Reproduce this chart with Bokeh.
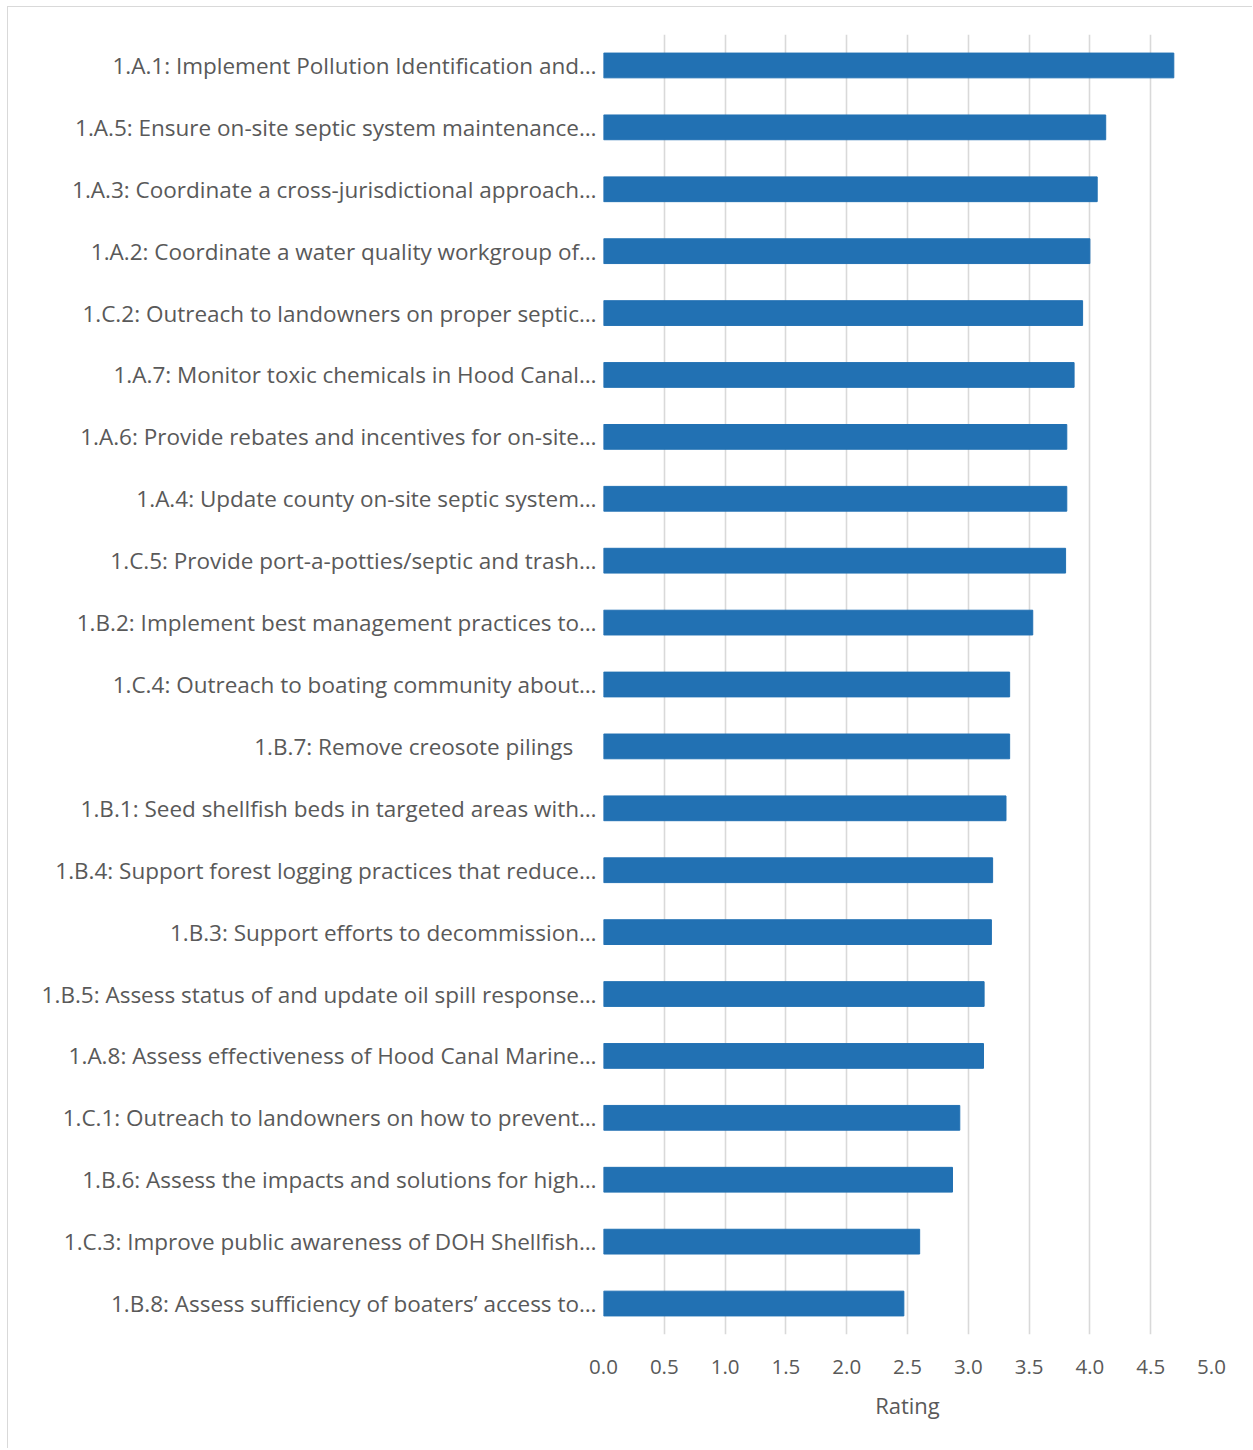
from bokeh.plotting import figure
from bokeh.models import Range1d, FixedTicker
from bokeh.embed import file_html
from bokeh.resources import INLINE

# ---- data (top to bottom as displayed) ----
labels = [
    "1.A.1: Implement Pollution Identification and\u2026",
    "1.A.5: Ensure on-site septic system maintenance\u2026",
    "1.A.3: Coordinate a cross-jurisdictional approach\u2026",
    "1.A.2: Coordinate a water quality workgroup of\u2026",
    "1.C.2: Outreach to landowners on proper septic\u2026",
    "1.A.7: Monitor toxic chemicals in Hood Canal\u2026",
    "1.A.6: Provide rebates and incentives for on-site\u2026",
    "1.A.4: Update county on-site septic system\u2026",
    "1.C.5: Provide port-a-potties/septic and trash\u2026",
    "1.B.2: Implement best management practices to\u2026",
    "1.C.4: Outreach to boating community about\u2026",
    "1.B.7: Remove creosote pilings\u00a0\u00a0\u00a0\u00a0",
    "1.B.1: Seed shellfish beds in targeted areas with\u2026",
    "1.B.4: Support forest logging practices that reduce\u2026",
    "1.B.3: Support efforts to decommission\u2026",
    "1.B.5: Assess status of and update oil spill response\u2026",
    "1.A.8: Assess effectiveness of Hood Canal Marine\u2026",
    "1.C.1: Outreach to landowners on how to prevent\u2026",
    "1.B.6: Assess the impacts and solutions for high\u2026",
    "1.C.3: Improve public awareness of DOH Shellfish\u2026",
    "1.B.8: Assess sufficiency of boaters\u2019 access to\u2026",
]
ratings = [4.69, 4.13, 4.06, 4.00, 3.94, 3.87, 3.81, 3.81, 3.80, 3.53,
           3.34, 3.34, 3.31, 3.20, 3.19, 3.13, 3.125, 2.93, 2.87, 2.60, 2.47]
x_ticks = [0.0, 0.5, 1.0, 1.5, 2.0, 2.5, 3.0, 3.5, 4.0, 4.5, 5.0]
x_title = "Rating"

FONT = "Open Sans"
TXT = "#595959"
GRID = "#D9D9D9"
BAR = "#2271B3"

p = figure(
    y_range=list(reversed(labels)),
    x_range=Range1d(0, 5),
    width=1245, height=1442,
    min_border_left=595, min_border_right=42,
    min_border_top=27, min_border_bottom=115,
    output_backend="svg", toolbar_location=None,
)
p.margin = (6, 0, 0, 7)
p.styles = {"border-top": "1px solid #D9D9D9", "border-left": "1px solid #D9D9D9"}

p.hbar(y=labels, right=ratings, left=0, height=0.4, color=BAR)

p.outline_line_color = None
p.background_fill_color = "white"

# x axis
p.xaxis.ticker = FixedTicker(ticks=x_ticks)
p.xaxis.major_label_overrides = {t: f"{t:.1f}" for t in x_ticks}
p.xaxis.axis_line_color = None
p.xaxis.major_tick_line_color = None
p.xaxis.minor_tick_line_color = None
p.xaxis.major_tick_out = 0
p.xaxis.major_label_standoff = 25
p.xaxis.major_label_text_font = FONT
p.xaxis.major_label_text_font_size = "20.5px"
p.xaxis.major_label_text_color = TXT
p.xaxis.axis_label = x_title
p.xaxis.axis_label_text_font = FONT
p.xaxis.axis_label_text_font_size = "22px"
p.xaxis.axis_label_text_font_style = "normal"
p.xaxis.axis_label_text_color = TXT
p.xaxis.axis_label_standoff = 13

# y axis
p.yaxis.axis_line_color = None
p.yaxis.major_tick_line_color = None
p.yaxis.minor_tick_line_color = None
p.yaxis.major_tick_out = 0
p.yaxis.major_label_standoff = 7
p.yaxis.major_label_text_font = FONT
p.yaxis.major_label_text_font_size = "22.5px"
p.yaxis.major_label_text_color = TXT

# grids
p.xgrid.grid_line_color = GRID
p.xgrid.grid_line_width = 1.6
p.ygrid.grid_line_color = None

open("out.html", "w").write(file_html(p, INLINE))
